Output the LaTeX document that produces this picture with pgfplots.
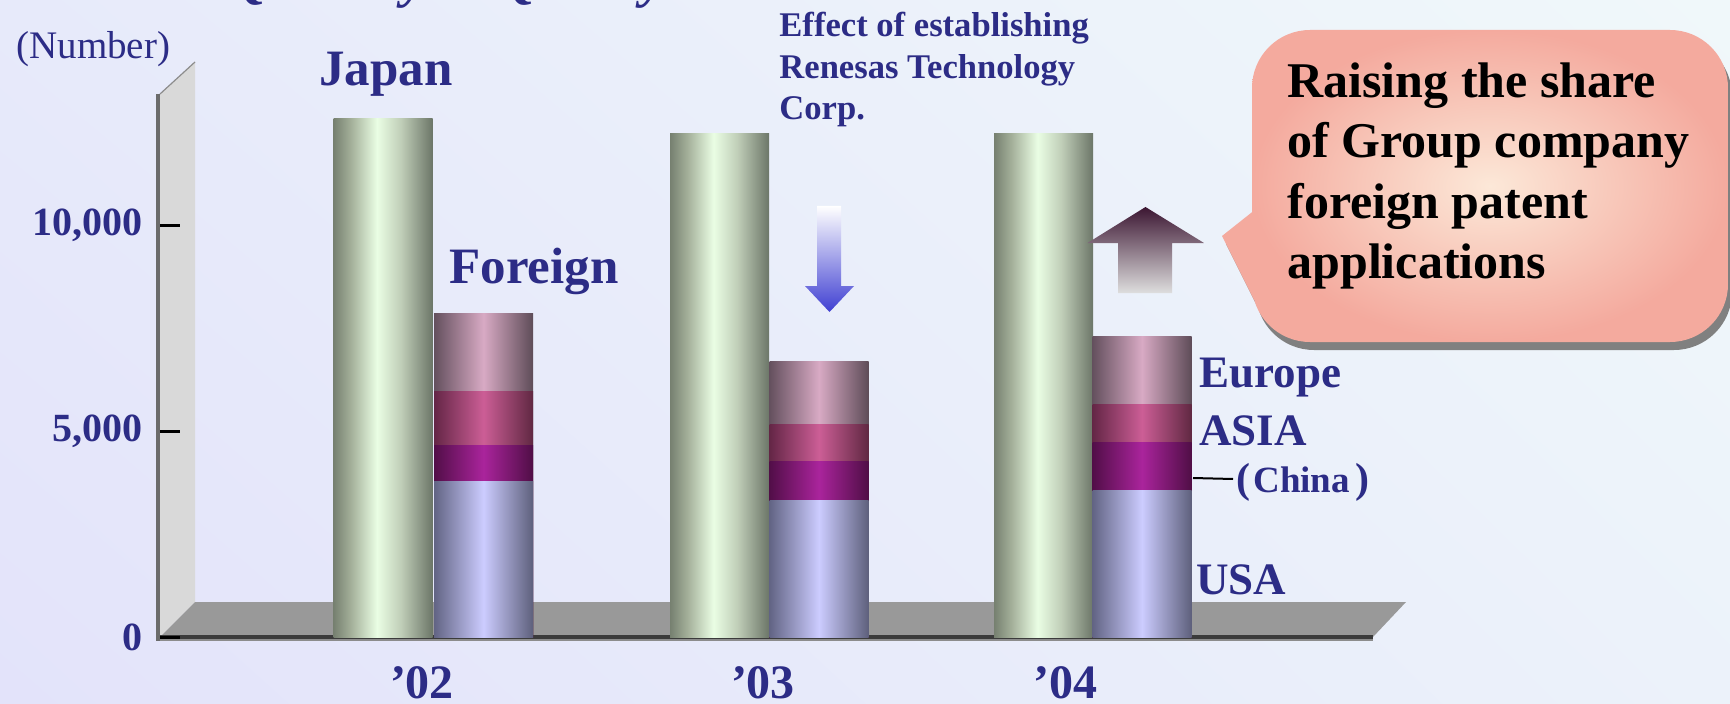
\documentclass[border=0pt]{standalone}
\usepackage{pgfplots}
\pgfplotsset{compat=1.18}
\usetikzlibrary{shadings}
\usepackage{fontspec}
\setmainfont{Liberation Serif}
\newcommand{\fs}[1]{\fontsize{#1}{#1}\selectfont}
\definecolor{tc}{RGB}{44,44,134}
\definecolor{bgtl}{RGB}{231,234,250}
\definecolor{bgtr}{RGB}{240,248,250}
\definecolor{bgbl}{RGB}{227,227,250}
\definecolor{bgbr}{RGB}{236,242,250}
% Japan cylinder
\definecolor{ja}{RGB}{118,128,112}
\definecolor{jb}{RGB}{162,174,152}
\definecolor{jc}{RGB}{234,254,228}
\definecolor{jd}{RGB}{192,206,184}
\definecolor{je}{RGB}{108,118,104}
% USA
\definecolor{ua}{RGB}{98,100,132}
\definecolor{uc}{RGB}{204,204,255}
\definecolor{ue}{RGB}{94,96,124}
% China
\definecolor{ca}{RGB}{82,14,72}
\definecolor{cc}{RGB}{170,36,156}
\definecolor{ce}{RGB}{80,14,70}
% Asia
\definecolor{aa}{RGB}{100,38,70}
\definecolor{ac}{RGB}{204,94,150}
\definecolor{ae}{RGB}{96,40,66}
% Europe
\definecolor{ea}{RGB}{100,80,94}
\definecolor{ec}{RGB}{216,170,196}
\definecolor{ee}{RGB}{94,76,88}
\definecolor{cin}{RGB}{252,232,216}
\definecolor{cout}{RGB}{244,170,158}
\definecolor{downblue}{RGB}{64,64,210}
\definecolor{updark}{RGB}{60,22,50}
\definecolor{uplight}{RGB}{222,222,222}

\pgfdeclarehorizontalshading{japshade}{100bp}{color(0bp)=(ja); color(25bp)=(ja); color(33.5bp)=(jb); color(47bp)=(jc); color(59bp)=(jd); color(75bp)=(je); color(100bp)=(je)}
\pgfdeclarehorizontalshading{usashade}{100bp}{color(0bp)=(ua); color(25bp)=(ua); color(50bp)=(uc); color(75bp)=(ue); color(100bp)=(ue)}
\pgfdeclarehorizontalshading{chinashade}{100bp}{color(0bp)=(ca); color(25bp)=(ca); color(50bp)=(cc); color(75bp)=(ce); color(100bp)=(ce)}
\pgfdeclarehorizontalshading{asiashade}{100bp}{color(0bp)=(aa); color(25bp)=(aa); color(50bp)=(ac); color(75bp)=(ae); color(100bp)=(ae)}
\pgfdeclarehorizontalshading{eushade}{100bp}{color(0bp)=(ea); color(25bp)=(ea); color(50bp)=(ec); color(75bp)=(ee); color(100bp)=(ee)}

\pgfplotsset{cyl/.style={ybar, bar width=99, bar shift=0pt, draw=none, shade, shading=#1}}

\begin{document}
\begin{tikzpicture}
\useasboundingbox (0,0) rectangle (865pt,351.5pt);
\shade[upper left=bgtl, upper right=bgtr, lower left=bgbl, lower right=bgbr] (0,0) rectangle (865pt,351.5pt);
% wall and floor (pixel coordinates, y downwards)
\begin{scope}[x=0.5pt,y=-0.5pt,shift={(0pt,351.5pt)}]
  \fill[black!15] (160,94) -- (195,62) -- (195,602) -- (160,637) -- cycle;
  \draw[black!45, line width=0.6pt] (160,94) -- (195,62);
  \fill[black!40] (160,637) -- (1373,637) -- (1406,602) -- (195,602) -- cycle;
  \fill[black!77] (157,635) rectangle (1373,639);
  \fill[black!45] (157,639) rectangle (1373,641);
  \fill[black!58] (156,94) rectangle (160,641);
\end{scope}
\begin{axis}[
  at={(80pt,33pt)}, anchor=south west,
  scale only axis, width=606.5pt, height=271.5pt,
  xmin=160, xmax=1373, ymin=0, ymax=13179.6,
  axis line style={draw=none},
  scaled y ticks=false,
  ytick={0,5000,10000}, yticklabels={0,{5,000},{10,000}},
  ytick pos=left, tick align=inside, major tick length=10pt,
  ytick style={black, line width=1.5pt},
  yticklabel style={font=\bfseries\fs{20}, text=tc, inner xsep=0pt, xshift=-8.5pt},
  xtick={422,763,1065}, xticklabels={’02,’03,’04},
  xtick style={draw=none},
  xticklabel style={font=\bfseries\fs{24}, text=tc, anchor=base, inner sep=0pt, yshift=-30.5pt},
]
% Japan (domestic) applications
\addplot[cyl=japshade] coordinates {(383,12597)};
\addplot[cyl=japshade] coordinates {(719.5,12209)};
\addplot[cyl=japshade] coordinates {(1043.5,12209)};
% Foreign applications, cumulative tops: Europe (total), Asia, China, USA
\addplot[cyl=eushade] coordinates {(483.5,7840)};
\addplot[cyl=asiashade] coordinates {(483.5,5947)};
\addplot[cyl=chinashade] coordinates {(483.5,4643)};
\addplot[cyl=usashade] coordinates {(483.5,3786)};
\addplot[cyl=eushade] coordinates {(819,6699)};
\addplot[cyl=asiashade] coordinates {(819,5146)};
\addplot[cyl=chinashade] coordinates {(819,4248)};
\addplot[cyl=usashade] coordinates {(819,3325)};
\addplot[cyl=eushade] coordinates {(1142,7282)};
\addplot[cyl=asiashade] coordinates {(1142,5655)};
\addplot[cyl=chinashade] coordinates {(1142,4709)};
\addplot[cyl=usashade] coordinates {(1142,3544)};
\end{axis}
\begin{scope}[x=0.5pt,y=-0.5pt,shift={(0pt,351.5pt)}]
  % partially visible title
  \node[anchor=base west, inner sep=0pt, text=tc, font=\bfseries\itshape\fs{27.5}] at (228,-3) {Quantity to Quality};
  \node[anchor=base west, inner sep=0pt, text=tc, font=\fs{19.5}] at (16,59) {(Number)};
  \node[anchor=base west, inner sep=0pt, text=tc, font=\bfseries\fs{25.5}] at (319,86) {Japan};
  \node[anchor=base west, inner sep=0pt, text=tc, font=\bfseries\fs{25.5}] at (449,283) {Foreign};
  \node[anchor=base west, inner sep=0pt, text=tc, font=\bfseries\fs{17.3}] at (779,37) {Effect of establishing};
  \node[anchor=base west, inner sep=0pt, text=tc, font=\bfseries\fs{17.3}] at (779,79) {Renesas Technology};
  \node[anchor=base west, inner sep=0pt, text=tc, font=\bfseries\fs{17.3}] at (779,120) {Corp.};
  \node[anchor=base west, inner sep=0pt, text=tc, font=\bfseries\fs{22.5}] at (1199,387) {Europe};
  \node[anchor=base west, inner sep=0pt, text=tc, font=\bfseries\fs{22.5}] at (1199,445) {ASIA};
  \node[anchor=base west, inner sep=0pt, text=tc, font=\bfseries\fs{18.5}] at (1236,492) {\fs{21}(\hspace{1.5pt}\fs{18.5}China\hspace{2.5pt}\fs{21})};
  \draw[black, line width=1pt] (1193,478) -- (1233,479);
  \node[anchor=base west, inner sep=0pt, text=tc, font=\bfseries\fs{22.5}] at (1196,594) {USA};
  % down arrow
  \shade[top color=white, bottom color=downblue] (817,206) -- (841,206) -- (841,286) -- (854,286) -- (829.5,312) -- (805,286) -- (817,286) -- cycle;
  % up arrow
  \shade[top color=updark, bottom color=uplight] (1145.5,207) -- (1204,243) -- (1172,243) -- (1172,293) -- (1118,293) -- (1118,243) -- (1087.5,243) -- cycle;
  % callout shadow
  \fill[black!50] (1226,244) -- (1260,217) -- (1258,308) -- cycle;
  \fill[black!50, rounded corners=29pt] (1256,38) rectangle (1732,350);
  % callout
  \fill[cout] (1222,236) -- (1256,209) -- (1254,300) -- cycle;
  \shade[inner color=cin, outer color=cout, rounded corners=29pt] (1252,30) rectangle (1728,342);
  \node[anchor=base west, inner sep=0pt, font=\bfseries\fs{25}] at (1287,98) {Raising the share};
  \node[anchor=base west, inner sep=0pt, font=\bfseries\fs{25}] at (1287,158) {of Group company};
  \node[anchor=base west, inner sep=0pt, font=\bfseries\fs{25}] at (1287,219) {foreign patent};
  \node[anchor=base west, inner sep=0pt, font=\bfseries\fs{25}] at (1287,279) {applications};
\end{scope}
\end{tikzpicture}
\end{document}
